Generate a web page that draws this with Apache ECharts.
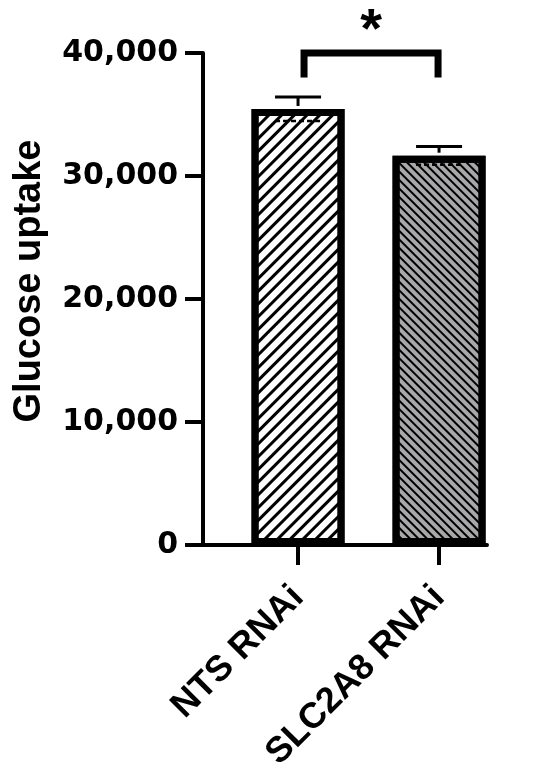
<!DOCTYPE html>
<html>
<head>
<meta charset="utf-8">
<script src="https://cdn.jsdelivr.net/npm/echarts@6/dist/echarts.min.js"></script>
<style>
  html, body { margin: 0; padding: 0; background: #fff; }
  #main { width: 550px; height: 780px; }
</style>
</head>
<body>
<div id="main"></div>
<script>
// groups and values
var categories = ['NTS RNAi', 'SLC2A8 RNAi'];
var positions = [1, 2];
var means = [35450, 31650];
var errors = [980, 740];
var barFills = ['#ffffff', '#a8a8aa'];
var yTicks = [0, 10000, 20000, 30000, 40000];
var sigPair = [1, 2];
var sigLevel = 40000;
var sigLegEnd = 38000;
var sigMark = '*';

var myChart = echarts.init(document.getElementById('main'));

var barData = positions.map(function (p, i) {
    return {
        value: [p, means[i]],
        itemStyle: {
            color: barFills[i],
            decal: {
                symbol: 'rect',
                symbolSize: 1,
                dashArrayX: [1, 0],
                dashArrayY: i === 0 ? [2.5, 5.5] : [2, 4],
                rotation: i === 0 ? -Math.PI / 4 : Math.PI / 4,
                color: '#000'
            }
        }
    };
});

var errData = positions.map(function (p, i) {
    return [p, means[i], errors[i]];
});

var fmt = function (v) {
    return String(v).replace(/\B(?=(\d{3})+(?!\d))/g, ',');
};

var option = {
    animation: false,
    backgroundColor: '#fff',
    grid: {
        left: 203,
        right: 63,
        top: 53,
        bottom: 235,
        outerBoundsMode: 'none'
    },
    xAxis: {
        type: 'value',
        min: 0.326,
        max: 2.34,
        splitLine: { show: false },
        axisLine: { show: true, lineStyle: { color: '#000', width: 4 } },
        axisTick: {
            show: true,
            customValues: positions,
            length: 20,
            lineStyle: { color: '#000', width: 4 }
        },
        axisLabel: {
            customValues: positions,
            formatter: function (v) { return categories[Math.round(v) - 1]; },
            rotate: 45,
            margin: 47,
            color: '#000',
            fontFamily: 'Liberation Sans',
            fontWeight: 'bold',
            fontSize: 36
        }
    },
    yAxis: {
        type: 'value',
        min: yTicks[0],
        max: yTicks[yTicks.length - 1],
        interval: yTicks[1] - yTicks[0],
        splitLine: { show: false },
        axisLine: { show: true, lineStyle: { color: '#000', width: 4 } },
        axisTick: { show: true, length: 18, lineStyle: { color: '#000', width: 4 } },
        axisLabel: {
            formatter: fmt,
            margin: 25,
            color: '#000',
            fontFamily: 'DejaVu Sans',
            fontWeight: 'bold',
            fontSize: 30
        }
    },
    graphic: [{
        type: 'text',
        x: 30,
        y: 281,
        rotation: Math.PI / 2,
        style: {
            text: 'Glucose uptake',
            fill: '#000',
            font: 'bold 38px "Liberation Sans"',
            align: 'center',
            verticalAlign: 'middle'
        }
    }],
    series: [
        {
            type: 'bar',
            data: barData,
            barWidth: 93,
            itemStyle: { borderColor: '#000', borderWidth: 7 },
            z: 2
        },
        {
            type: 'custom',
            data: errData,
            z: 3,
            renderItem: function (params, api) {
                var x = api.value(0), m = api.value(1), e = api.value(2);
                var top = api.coord([x, m + e]);
                var mid = api.coord([x, m]);
                var low = api.coord([x, m - e]);
                var hw = 23;
                var st = { stroke: '#000', lineWidth: 3 };
                return {
                    type: 'group',
                    children: [
                        { type: 'line', shape: { x1: top[0], y1: top[1], x2: mid[0], y2: mid[1] - 3 }, style: st },
                        { type: 'line', shape: { x1: top[0] - hw, y1: top[1], x2: top[0] + hw, y2: top[1] }, style: st },
                        { type: 'line', shape: { x1: low[0] - hw, y1: low[1], x2: low[0] + hw, y2: low[1] },
                          style: { stroke: '#000', lineWidth: 2.5, lineDash: [5, 3] } }
                    ]
                };
            }
        },
        {
            type: 'custom',
            data: [[sigPair[0], sigPair[1], sigLevel, sigLegEnd]],
            z: 3,
            renderItem: function (params, api) {
                var a = api.coord([api.value(0), api.value(2)]);
                var b = api.coord([api.value(1), api.value(2)]);
                var la = api.coord([api.value(0), api.value(3)]);
                var ax = a[0] + 6, bx = b[0] - 1;
                return {
                    type: 'group',
                    children: [
                        { type: 'polyline', shape: { points: [[ax, la[1]], [ax, a[1]], [bx, a[1]], [bx, la[1]]] },
                          style: { stroke: '#000', lineWidth: 7, lineJoin: 'miter', fill: null } },
                        { type: 'text', x: (ax + bx) / 2, y: a[1] - 21,
                          style: { text: sigMark, fill: '#000', font: 'bold 56px "Liberation Sans"',
                                   align: 'center', verticalAlign: 'middle' } }
                    ]
                };
            }
        }
    ]
};

myChart.setOption(option);
</script>
</body>
</html>
